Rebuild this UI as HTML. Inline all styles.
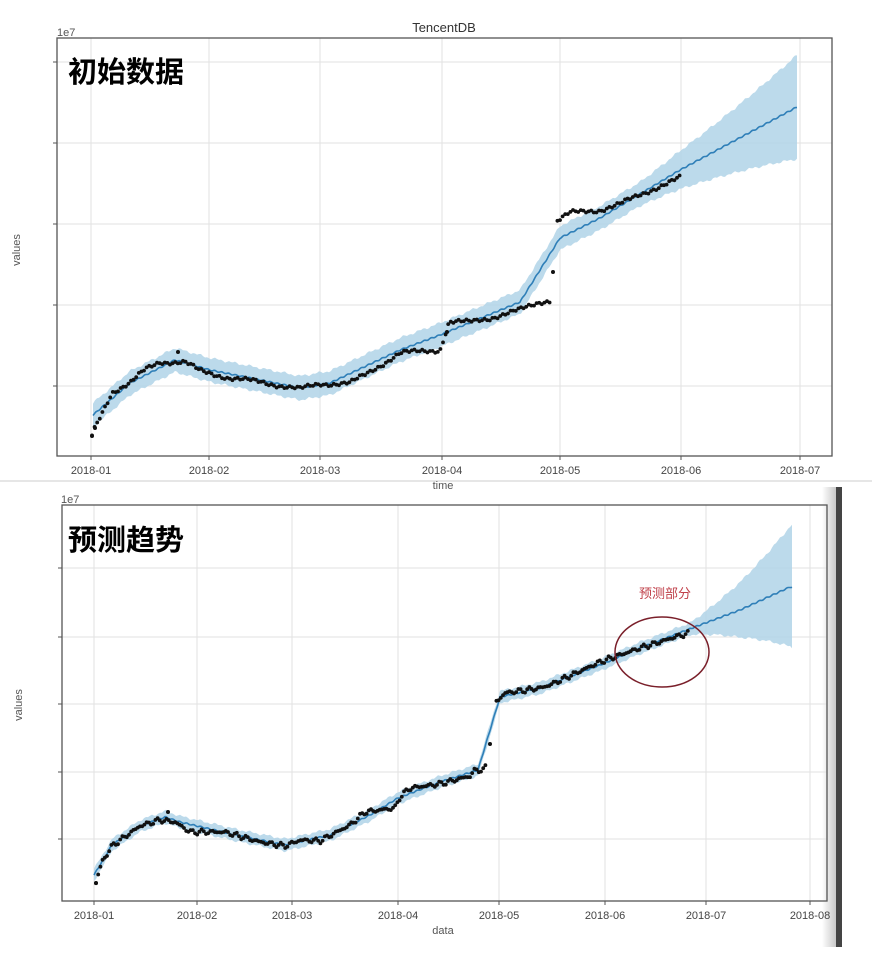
<!DOCTYPE html>
<html><head><meta charset="utf-8"><style>
html,body{margin:0;padding:0;background:#fff;}
svg{display:block;}
text{font-family:"Liberation Sans","DejaVu Sans",sans-serif;}
.cjk{font-family:"Liberation Sans","Noto Sans CJK SC",sans-serif;}
</style></head><body>
<svg id="s" width="872" height="964" viewBox="0 0 872 964" xmlns="http://www.w3.org/2000/svg">
<defs>
<linearGradient id="sh" x1="0" x2="1"><stop offset="0" stop-color="#fff"/><stop offset="1" stop-color="#c8c8c8"/></linearGradient>
</defs>
<rect width="872" height="964" fill="#fff"/>
<line x1="0" y1="481" x2="872" y2="481" stroke="#e6e6e6" stroke-width="2"/>
<rect x="822" y="487" width="14" height="460" fill="url(#sh)"/>
<rect x="836" y="487" width="6" height="460" fill="#444"/>
<g id="g1"></g>
<g id="g2"></g>
<text x="444" y="32" font-size="13" fill="#333" text-anchor="middle">TencentDB</text>
<text x="57" y="36" font-size="11" fill="#555">1e7</text>
<text x="61" y="503" font-size="11" fill="#555">1e7</text>
<text x="20" y="250" font-size="11" fill="#555" transform="rotate(-90 20 250)" text-anchor="middle">values</text>
<text x="22" y="705" font-size="11" fill="#555" transform="rotate(-90 22 705)" text-anchor="middle">values</text>
<text x="443" y="489" font-size="11" fill="#555" text-anchor="middle">time</text>
<text x="443" y="934" font-size="11" fill="#555" text-anchor="middle">data</text>
<text class="cjk" x="68" y="82" font-size="29" fill="#000" font-weight="bold">初始数据</text>
<text class="cjk" x="68" y="550" font-size="29" fill="#000" font-weight="bold">预测趋势</text>
<text class="cjk" x="665" y="598" font-size="13" fill="#c0404a" text-anchor="middle">预测部分</text>
<ellipse cx="662" cy="652" rx="47" ry="35" fill="none" stroke="#7a1f2a" stroke-width="1.5"/>
</svg>
<script>
var NS="http://www.w3.org/2000/svg";
function el(p,t,a){var e=document.createElementNS(NS,t);for(var k in a)e.setAttribute(k,a[k]);p.appendChild(e);return e;}
function interp(pts,x){if(x<=pts[0][0])return pts[0][1];for(var i=1;i<pts.length;i++){if(x<=pts[i][0]){var a=pts[i-1],b=pts[i];return a[1]+(b[1]-a[1])*(x-a[0])/(b[0]-a[0]);}}return pts[pts.length-1][1];}
function chart(g,box,xt,labels,yg,line,band,pts,out,x0,x1,xpend,bandEnd,step,gaps){
 xt.forEach(function(x){el(g,"line",{x1:x,y1:box[1],x2:x,y2:box[3],stroke:"#e2e2e2","stroke-width":1});});
 yg.forEach(function(y){el(g,"line",{x1:box[0],y1:y,x2:box[2],y2:y,stroke:"#e2e2e2","stroke-width":1});el(g,"line",{x1:box[0]-4,y1:y,x2:box[0],y2:y,stroke:"#555"});});
 var up=[],dn=[];
 for(var x=x0;x<=x1;x+=2){var y=interp(line,x);var w=band,wd=band;if(x>xpend){var f=(x-xpend)/(x1-xpend);f=f*f*0.4+f*0.6;w=band+f*bandEnd[0];wd=band+f*bandEnd[1];}
  var n=Math.sin(x*0.9)*0.8+Math.sin(x*0.37)*0.8;up.push(x+","+(y-w+n).toFixed(1));dn.unshift(x+","+(y+wd-n).toFixed(1));}
 el(g,"polygon",{points:up.concat(dn).join(" "),fill:"#b0d3e8","fill-opacity":"0.85"});
 var lp=[];for(var x=x0;x<=x1;x+=1){lp.push(x+","+(interp(line,x)+Math.sin(x*0.9)*0.6).toFixed(1));}
 el(g,"polyline",{points:lp.join(" "),fill:"none",stroke:"#2f7fb8","stroke-width":1.6});
 for(var x=pts[0][0];x<=pts[pts.length-1][0];x+=step){var skip=false;gaps.forEach(function(gp){if(x>gp[0]&&x<gp[1])skip=true;});if(skip)continue;
  var y=interp(pts,x)+Math.sin(x*2.3)*1.5+Math.sin(x*0.71)*1.2;el(g,"circle",{cx:x.toFixed(1),cy:y.toFixed(1),r:1.9,fill:"#111"});}
 out.forEach(function(p){el(g,"circle",{cx:p[0],cy:p[1],r:2,fill:"#111"});});
 el(g,"rect",{x:box[0],y:box[1],width:box[2]-box[0],height:box[3]-box[1],fill:"none",stroke:"#555","stroke-width":1.3});
 xt.forEach(function(x,i){el(g,"line",{x1:x,y1:box[3],x2:x,y2:box[3]+4,stroke:"#555"});var t=el(g,"text",{x:x,y:box[3]+18,"font-size":11,fill:"#444","text-anchor":"middle"});t.textContent=labels[i];});
}
chart(document.getElementById("g1"),[57,38,832,456],[91,209,320,442,560,681,800],
 ["2018-01","2018-02","2018-03","2018-04","2018-05","2018-06","2018-07"],[62,143,224,305,386],
 [[93,415],[130,383],[175,360],[210,370],[300,388],[330,383],[400,350],[440,335],[520,302],[560,238],[600,218],[680,170],[797,107]],
 12,
 [[92,436],[95,428],[112,392],[130,383],[145,370],[160,362],[185,362],[200,371],[230,378],[260,382],[300,389],[320,384],[350,383],[365,375],[400,353],[440,350],[449,322],[470,322],[490,318],[520,310],[540,302],[552,300],[555,222],[570,213],[600,210],[620,204],[640,195],[660,186],[680,178]],
 [[178,352],[447,332],[553,272],[92,436],[95,428]],93,797,640,[40,40],2.6,[[551,556]]);
chart(document.getElementById("g2"),[62,505,827,901],[94,197,292,398,499,605,706,810],
 ["2018-01","2018-02","2018-03","2018-04","2018-05","2018-06","2018-07","2018-08"],[568,637,704,772,839],
 [[94,875],[112,845],[140,826],[165,817],[180,822],[240,836],[285,845],[330,835],[370,815],[398,798],[440,782],[478,770],[500,697],[540,688],[600,665],[640,648],[700,625],[740,610],[790,587]],
 6,
 [[96,883],[98,875],[102,862],[112,846],[140,826],[160,820],[175,822],[190,832],[225,832],[260,842],[285,846],[300,840],[320,841],[335,833],[350,825],[365,812],[395,808],[400,797],[410,788],[440,784],[470,776],[475,770],[485,770],[496,702],[505,693],[540,688],[550,685],[600,662],[620,655],[640,648],[660,642],[675,637],[690,633]],
 [[168,812],[490,744],[96,883]],94,792,690,[56,55],2.2,[[486,495]]);
</script>
</body></html>
